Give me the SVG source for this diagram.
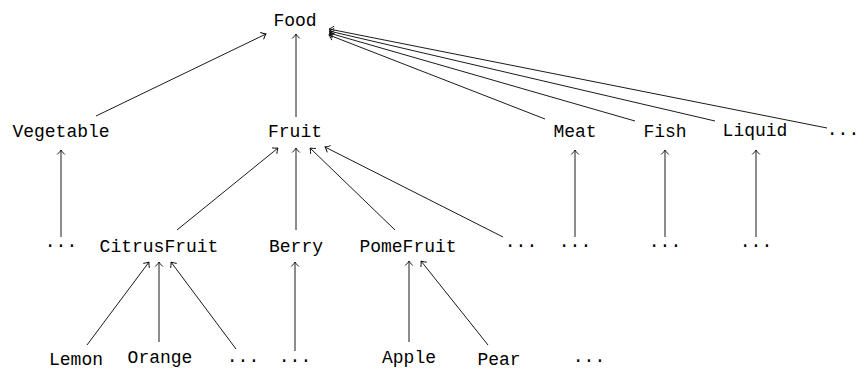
<svg xmlns="http://www.w3.org/2000/svg" width="859" height="369" viewBox="0 0 859 369">
<defs>
<marker id="ah" markerUnits="userSpaceOnUse" viewBox="-6 -5 8 10" markerWidth="8" markerHeight="10" refX="0" refY="0" orient="auto">
<path d="M-4.5,-3.8 C-2.2,-1.4 -0.6,-0.3 0,0 C-0.6,0.3 -2.2,1.4 -4.5,3.8" fill="none" stroke="#000" stroke-width="0.9"/>
</marker>
</defs>
<style>
text{font-family:"Liberation Mono","DejaVu Sans Mono",monospace;font-size:18px;fill:#000;text-anchor:middle}
.e line{stroke:#000;stroke-width:0.9;marker-end:url(#ah)}
</style>
<rect width="859" height="369" fill="#fff"/>
<g class="e" id="connectors">
<line x1="96" y1="116" x2="266" y2="34"/>
<line x1="296" y1="117" x2="296" y2="34"/>
<line x1="545" y1="119" x2="329" y2="35"/>
<line x1="635" y1="121" x2="329" y2="33"/>
<line x1="715" y1="121" x2="329" y2="31"/>
<line x1="827" y1="128" x2="329" y2="29"/>
<line x1="61" y1="237" x2="61" y2="150"/>
<line x1="575" y1="237" x2="575" y2="150"/>
<line x1="665" y1="237" x2="665" y2="150"/>
<line x1="756" y1="237" x2="756" y2="150"/>
<line x1="177" y1="230" x2="278" y2="148"/>
<line x1="296" y1="230" x2="296" y2="148"/>
<line x1="395" y1="230" x2="310" y2="148"/>
<line x1="503" y1="237" x2="325" y2="147"/>
<line x1="87" y1="345" x2="149" y2="262"/>
<line x1="159" y1="342" x2="159" y2="262"/>
<line x1="236" y1="349" x2="171" y2="262"/>
<line x1="295" y1="351" x2="295" y2="262"/>
<line x1="409" y1="342" x2="409" y2="261"/>
<line x1="488" y1="345" x2="421" y2="261"/>
</g>
<g id="food"><text x="295" y="26">Food</text></g>
<g id="vegetable"><text x="61" y="137">Vegetable</text></g>
<g id="fruit"><text x="295" y="137">Fruit</text></g>
<g id="meat"><text x="575" y="137">Meat</text></g>
<g id="fish"><text x="665" y="137">Fish</text></g>
<g id="liquid"><text x="755" y="136">Liquid</text></g>
<g id="more1"><text x="843" y="134.5">...</text></g>
<g id="vegmore"><text x="61" y="246.5">...</text></g>
<g id="citrus"><text x="159" y="252">CitrusFruit</text></g>
<g id="berry"><text x="296" y="252">Berry</text></g>
<g id="pome"><text x="408" y="252">PomeFruit</text></g>
<g id="fruitmore"><text x="521" y="246.5">...</text></g>
<g id="meatmore"><text x="575" y="246.5">...</text></g>
<g id="fishmore"><text x="665" y="246.5">...</text></g>
<g id="liquidmore"><text x="756" y="246.5">...</text></g>
<g id="lemon"><text x="76" y="365">Lemon</text></g>
<g id="orange"><text x="160" y="363">Orange</text></g>
<g id="citrusmore"><text x="243" y="361.5">...</text></g>
<g id="berrymore"><text x="295" y="361.5">...</text></g>
<g id="apple"><text x="409" y="363">Apple</text></g>
<g id="pear"><text x="499" y="365">Pear</text></g>
<g id="pomemore"><text x="589" y="361.5">...</text></g>
</svg>
